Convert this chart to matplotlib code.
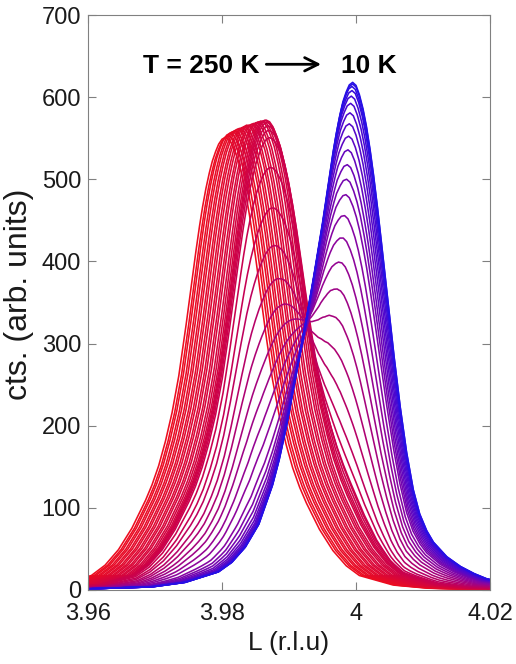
import numpy as np
import matplotlib
matplotlib.use('Agg')
import matplotlib.pyplot as plt
from matplotlib.colors import LinearSegmentedColormap

# line shapes (distance from peak centre in r.l.u -> relative height)
profile_offset = [0.0, 0.0005, 0.001, 0.0015, 0.002, 0.0025, 0.003, 0.0035, 0.004, 0.0045,
                  0.005, 0.0055, 0.006, 0.007, 0.008, 0.009, 0.010, 0.011, 0.012, 0.014,
                  0.016, 0.018, 0.020, 0.025, 0.030, 0.040, 0.070]
# broad high-T peak (low L side), symmetric
profile_low = [1.000, 0.996, 0.985, 0.967, 0.945, 0.915, 0.880, 0.838, 0.790, 0.737,
               0.682, 0.626, 0.570, 0.468, 0.388, 0.325, 0.272, 0.230, 0.195, 0.135,
               0.088, 0.054, 0.032, 0.011, 0.004, 0.001, 0.0]
# low-T peak near L = 4: left and right side
profile_high_left = [1.000, 0.995, 0.980, 0.960, 0.930, 0.895, 0.855, 0.810, 0.765, 0.720,
                     0.680, 0.640, 0.600, 0.525, 0.455, 0.385, 0.315, 0.255, 0.205, 0.130,
                     0.085, 0.055, 0.036, 0.015, 0.006, 0.002, 0.0]
profile_high_right = [1.000, 0.994, 0.976, 0.951, 0.918, 0.877, 0.830, 0.777, 0.720, 0.660,
                      0.600, 0.540, 0.480, 0.370, 0.275, 0.200, 0.150, 0.118, 0.095, 0.066,
                      0.047, 0.033, 0.022, 0.009, 0.004, 0.001, 0.0]

# one entry per scan
temps = [250, 245, 240, 235, 230, 225, 220, 215, 210, 205, 200, 195, 190, 185, 180, 175, 170, 165,
         160, 155, 150, 145, 140,
         135, 130, 125, 120, 115, 110, 105, 100, 95, 90,
         85, 80, 75, 70, 65, 60, 55, 50, 40, 30, 20, 15, 10]
low_center = [3.9805, 3.9809, 3.9812, 3.9816, 3.9819, 3.9823, 3.9826, 3.9830, 3.9833, 3.9837,
              3.9840, 3.9844, 3.9847, 3.9851, 3.9854, 3.9858, 3.9861, 3.9864,
              3.9866, 3.9867, 3.9868, 3.9869, 3.9870,
              3.9871, 3.9872, 3.9872, 3.9873, 3.9873, 3.9874, 3.9874, 3.9875, 3.9875, 3.9876,
              3.9876, 3.9876, 3.9877, 3.9877, 3.9877, 3.9878, 3.9878, 3.9878, 3.9878, 3.9878,
              3.9878, 3.9878, 3.9878]
low_height = [551, 553, 556, 558, 559, 561, 562, 563, 564, 566,
              566, 567, 568, 569, 570, 571, 571, 572,
              570, 566, 560, 552, 540,
              500, 440, 380, 320, 265, 215, 170, 130, 95, 65,
              48, 35, 25, 17, 11, 7, 4, 2, 1, 0,
              0, 0, 0]
high_center = [3.9962] * 18 + [3.9962, 3.9963, 3.9963, 3.9964, 3.9964,
               3.9965, 3.9967, 3.9969, 3.9971, 3.9973, 3.9975, 3.9977, 3.9979, 3.9981, 3.9983,
               3.9985, 3.9986, 3.9987, 3.9988, 3.9989, 3.9990, 3.9991, 3.9992, 3.9993, 3.9994,
               3.9994, 3.9995, 3.9995]
high_height = [0] * 18 + [6, 10, 15, 22, 30,
               40, 70, 110, 160, 215, 270, 320, 365, 405, 440,
               470, 492, 512, 532, 550, 566, 580, 592, 601, 608,
               613, 616, 618]

L = np.linspace(3.96, 4.02, 1201)

cmap = LinearSegmentedColormap.from_list('rb', [
    (0.00, (0.93, 0.05, 0.12)),
    (0.50, (0.78, 0.00, 0.32)),
    (0.65, (0.55, 0.02, 0.62)),
    (0.80, (0.32, 0.03, 0.80)),
    (1.00, (0.15, 0.06, 0.90))])

fig = plt.figure(figsize=(5.16, 6.64), dpi=100)
ax = fig.add_axes([88 / 516, 1 - 590 / 664, 402 / 516, 575 / 664])

for i in range(len(temps)):
    d_low = np.abs(L - low_center[i])
    d_high = L - high_center[i]
    shape_high = np.where(d_high < 0,
                          np.interp(-d_high, profile_offset, profile_high_left),
                          np.interp(d_high, profile_offset, profile_high_right))
    cts = low_height[i] * np.interp(d_low, profile_offset, profile_low) + high_height[i] * shape_high
    ax.plot(L, cts, color=cmap((250 - temps[i]) / 240), lw=1.15)

ax.set_xlim(3.96, 4.02)
ax.set_ylim(0, 700)
ax.set_xticks([3.96, 3.98, 4.0, 4.02])
ax.set_xticklabels(['3.96', '3.98', '4', '4.02'])
ax.set_yticks(range(0, 701, 100))
for s in ax.spines.values():
    s.set_color('0.5')
ax.tick_params(direction='in', top=True, right=True, length=6, color='0.5', labelsize=17)
ax.tick_params(axis='x', pad=9)
ax.tick_params(axis='y', pad=5)
for lab in ax.get_xticklabels() + ax.get_yticklabels():
    lab.set_family('Liberation Sans')
    lab.set_color('0.1')

ax.set_xlabel('L (r.l.u)', fontsize=19, family='Liberation Sans', labelpad=5, color='0.1')
ax.set_ylabel('cts. (arb. units)', fontsize=23, family='Liberation Sans', color='0.1')
ax.yaxis.set_label_coords(-0.135, 0.515)

ax.text(3.9682, 638, 'T = 250 K', fontsize=19, fontweight='bold', family='Liberation Sans',
        va='center', ha='left')
ax.annotate('', xy=(3.9952, 640), xytext=(3.9862, 640),
            arrowprops=dict(arrowstyle='->', lw=2.0, color='black', mutation_scale=24))
ax.text(3.9977, 638, '10 K', fontsize=19, fontweight='bold', family='Liberation Sans',
        va='center', ha='left')

fig.savefig('out.png', dpi=100)
